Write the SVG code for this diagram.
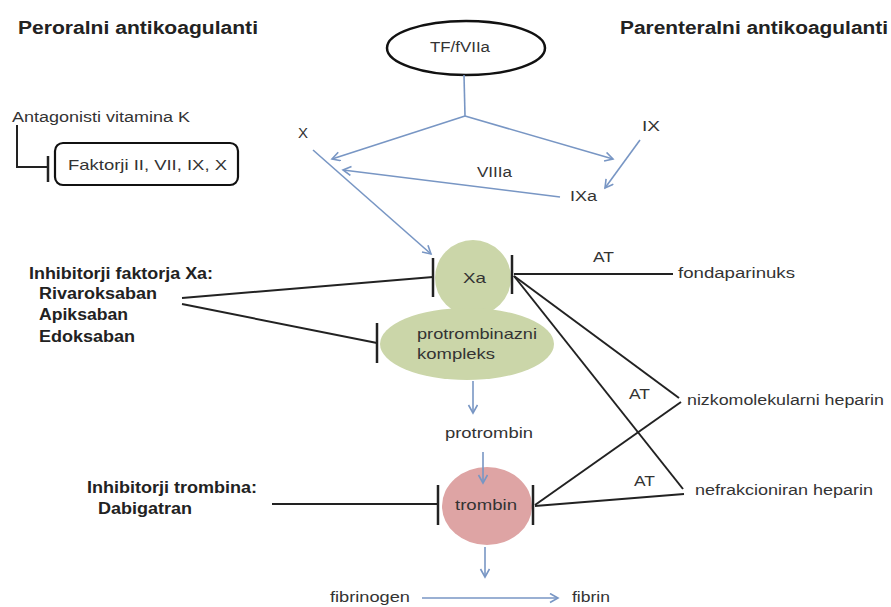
<svg xmlns="http://www.w3.org/2000/svg" width="891" height="607" viewBox="0 0 891 607">
<style>
text{font-family:"Liberation Sans",Arial,sans-serif;fill:#333;}
.t{font-size:14px;}
.at{font-size:15px;}
.b{font-size:16px;font-weight:bold;fill:#222;}
.h{font-size:18px;font-weight:bold;fill:#222;}
.blue{stroke:#7896c4;stroke-width:1.6;fill:none;}
.blk{stroke:#222;stroke-width:2;fill:none;}
.bar{stroke:#222;stroke-width:2.5;fill:none;}
.green{fill:#cbd6a9;}
</style>
<defs>
<marker id="arr" markerUnits="userSpaceOnUse" markerWidth="12" markerHeight="12" refX="9" refY="5" orient="auto">
<path d="M1,0.5 L9,5 L1,9.5" fill="none" stroke="#7896c4" stroke-width="1.6"/>
</marker>
</defs>
<rect width="891" height="607" fill="#fff"/>

<g id="titles">
<text class="h" x="18" y="34" textLength="240" lengthAdjust="spacingAndGlyphs">Peroralni antikoagulanti</text>
<text class="h" x="620" y="34" textLength="268" lengthAdjust="spacingAndGlyphs">Parenteralni antikoagulanti</text>
</g>

<g id="tf">
<ellipse cx="466" cy="48" rx="79" ry="27" fill="#fff" stroke="#111" stroke-width="2.5"/>
<text class="t" x="430" y="52" textLength="60" lengthAdjust="spacingAndGlyphs">TF/fVIIa</text>
</g>

<g id="vka">
<text class="t" x="12" y="122" textLength="178" lengthAdjust="spacingAndGlyphs">Antagonisti vitamina K</text>
</g>
<g id="faktorji">
<rect x="55" y="143" width="183" height="42" rx="8" fill="#fff" stroke="#111" stroke-width="2.2"/>
<text x="68" y="170" font-size="15" textLength="159" lengthAdjust="spacingAndGlyphs">Faktorji II, VII, IX, X</text>
</g>

<g id="X"><text class="at" x="303" y="138" text-anchor="middle">X</text></g>
<g id="IX"><text class="t" x="642" y="131" textLength="18" lengthAdjust="spacingAndGlyphs">IX</text></g>
<g id="VIIIa"><text class="t" x="477" y="177" textLength="35" lengthAdjust="spacingAndGlyphs">VIIIa</text></g>
<g id="IXa"><text class="t" x="570" y="201" textLength="27" lengthAdjust="spacingAndGlyphs">IXa</text></g>

<g id="xa-inhib">
<text class="b" x="29" y="279" textLength="184" lengthAdjust="spacingAndGlyphs">Inhibitorji faktorja Xa:</text>
<text class="b" x="39" y="299" textLength="118" lengthAdjust="spacingAndGlyphs">Rivaroksaban</text>
<text class="b" x="39" y="320" textLength="89" lengthAdjust="spacingAndGlyphs">Apiksaban</text>
<text class="b" x="39" y="342" textLength="96" lengthAdjust="spacingAndGlyphs">Edoksaban</text>
</g>

<g id="Xa">
<circle class="green" cx="473" cy="278" r="38"/>
<ellipse class="green" cx="467" cy="344" rx="87" ry="36"/>
<text x="463" y="283" font-size="15" textLength="23" lengthAdjust="spacingAndGlyphs">Xa</text>
</g>
<g id="protrombinazni">
<text x="417" y="339" font-size="15" textLength="120" lengthAdjust="spacingAndGlyphs">protrombinazni</text>
<text x="417" y="359" font-size="15" textLength="78" lengthAdjust="spacingAndGlyphs">kompleks</text>
</g>

<g id="fondaparinuks"><text class="t" x="678" y="278" textLength="117" lengthAdjust="spacingAndGlyphs">fondaparinuks</text></g>
<g id="nmh"><text class="t" x="687" y="405" textLength="197" lengthAdjust="spacingAndGlyphs">nizkomolekularni heparin</text></g>
<g id="nfh"><text class="t" x="695" y="495" textLength="178" lengthAdjust="spacingAndGlyphs">nefrakcioniran heparin</text></g>

<g id="protrombin"><text class="t" x="445" y="438" textLength="88" lengthAdjust="spacingAndGlyphs">protrombin</text></g>

<g id="trombin">
<ellipse cx="487" cy="506" rx="45" ry="39" fill="#dea4a4"/>
<text x="455" y="510" font-size="15" textLength="62" lengthAdjust="spacingAndGlyphs">trombin</text>
</g>

<g id="dti">
<text class="b" x="87" y="493" textLength="170" lengthAdjust="spacingAndGlyphs">Inhibitorji trombina:</text>
<text class="b" x="98" y="514" textLength="94" lengthAdjust="spacingAndGlyphs">Dabigatran</text>
</g>

<g id="fibrinogen"><text class="t" x="330" y="602" textLength="80" lengthAdjust="spacingAndGlyphs">fibrinogen</text></g>
<g id="fibrin"><text class="t" x="572" y="602" textLength="38" lengthAdjust="spacingAndGlyphs">fibrin</text></g>

<g id="AT-labels">
<text class="at" x="593" y="262" textLength="21" lengthAdjust="spacingAndGlyphs">AT</text>
<text class="at" x="629" y="399" textLength="21" lengthAdjust="spacingAndGlyphs">AT</text>
<text class="at" x="634" y="486" textLength="21" lengthAdjust="spacingAndGlyphs">AT</text>
</g>

<g id="connectors">
<path class="blue" d="M464,75 L465,116"/>
<path class="blue" d="M465,116 L332,159" marker-end="url(#arr)"/>
<path class="blue" d="M465,116 L613,159" marker-end="url(#arr)"/>
<path class="blue" d="M640,140 L605,188" marker-end="url(#arr)"/>
<path class="blue" d="M560,197 L343,170" marker-end="url(#arr)"/>
<path class="blue" d="M313,150 L431,254" marker-end="url(#arr)"/>
<path class="blue" d="M473,381 L473,413" marker-end="url(#arr)"/>
<path class="blue" d="M483,452 L483,483" marker-end="url(#arr)"/>
<path class="blue" d="M485,547 L485,577" marker-end="url(#arr)"/>
<path class="blue" d="M422,598 L558,598" marker-end="url(#arr)"/>
<path class="blk" d="M17,125 L17,167 L48,167"/>
<path class="bar" d="M48,156 L48,182"/>
<path class="blk" d="M182,298 L433,277"/>
<path class="bar" d="M433,258 L433,297"/>
<path class="blk" d="M182,304 L377,343"/>
<path class="bar" d="M377,323 L377,363"/>
<path class="bar" d="M512,255 L512,294"/>
<path class="blk" d="M514,274 L673,274"/>
<path class="blk" d="M514,276 L679,398"/>
<path class="blk" d="M514,276 L683,489"/>
<path class="blk" d="M681,402 L535,505"/>
<path class="blk" d="M684,494 L535,506"/>
<path class="bar" d="M533,485 L533,525"/>
<path class="blk" d="M272,504 L438,504"/>
<path class="bar" d="M438,485 L438,525"/>
</g>
</svg>
